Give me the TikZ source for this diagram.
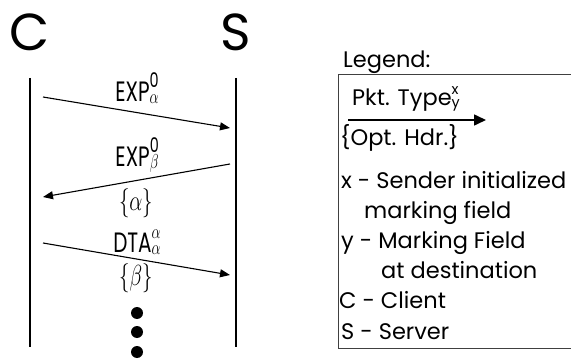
\documentclass[tikz,border=0pt]{standalone}
\usepackage{amsmath}
\usepackage{fontspec}
\setmainfont{Poppins}
\DeclareMathSizes{20}{20}{15}{12}
\DeclareMathSizes{22.5}{22.5}{16}{12}
\usetikzlibrary{arrows.meta}
\newcommand{\ptype}[4][14.4]{#2\rlap{\raisebox{0.5em}{\fontsize{#1}{#1}\selectfont #3}}\raisebox{-0.05em}{\fontsize{#1}{#1}\selectfont #4}}

\begin{document}
\begin{tikzpicture}[x=1pt,y=1pt,every node/.style={inner sep=0pt},party/.style={font=\fontsize{52}{56}\selectfont},lbl/.style={font=\fontsize{20}{22}\selectfont,yscale=1.4,transform shape},legtext/.style={font=\fontsize{22.5}{24}\selectfont,anchor=base west},msg/.style={-{Triangle[length=10pt,width=8pt]},line width=1.1pt},life/.style={line width=2.6pt}]
\useasboundingbox (0,0) rectangle (571,362);
\clip (0,0) rectangle (571,362);

\node[party] (C) at (30,330) {C}; \node[party] (S) at (236,330) {S};
\coordinate (Ctop) at (30,284); \coordinate (Cbot) at (30,15); \coordinate (Stop) at (236,284); \coordinate (Sbot) at (236,15);
\draw[life] (Ctop)--(Cbot); \draw[life] (Stop)--(Sbot);

\coordinate (m1a) at (43,265); \coordinate (m1b) at (230,234);
\coordinate (m2a) at (230,198); \coordinate (m2b) at (43,165);
\coordinate (m3a) at (43,119); \coordinate (m3b) at (230,87);
\draw[msg] (m1a)--(m1b); \draw[msg] (m2a)--(m2b); \draw[msg] (m3a)--(m3b);
\node[lbl,anchor=base] (l1) at (137,260) {\ptype{EXP}{0}{$\alpha$}};
\node[lbl,anchor=base] (l2) at (137,195) {\ptype{EXP}{0}{$\beta$}};
\node[lbl] (h2) at (136,159) {$\{\alpha\}$};
\node[lbl,anchor=base] (l3) at (137,109) {\ptype{DTA}{$\alpha$}{$\alpha$}};
\node[lbl] (h3) at (136,84) {$\{\beta\}$};
\foreach \y in {49,30,10} \fill (137,\y) circle (6);

\node[legtext] (leg) at (343,294) {Legend:};
\draw[line width=0.8pt,black!75] (338.5,288) rectangle (590,14);
\node[legtext] (pkt) at (352,256) {\ptype[14.4]{Pkt. Type}{x}{y}};
\coordinate (ka) at (348,242); \coordinate (kb) at (486,242);
\draw[-{Triangle[length=12pt,width=11pt]},line width=1.6pt] (ka)--(kb);
\node[legtext] (opt) at (340,216) {\{Opt. Hdr.\}};
\node[legtext] (lx) at (341,173) {x - Sender initialized};
\node[legtext] (lx2) at (364,143) {marking field};
\node[legtext] (ly) at (341,113) {y - Marking Field};
\node[legtext] (ly2) at (381,83) {at destination};
\node[legtext] (lc) at (339,53) {C - Client};
\node[legtext] (ls) at (341,23) {S - Server};
\end{tikzpicture}
\end{document}
